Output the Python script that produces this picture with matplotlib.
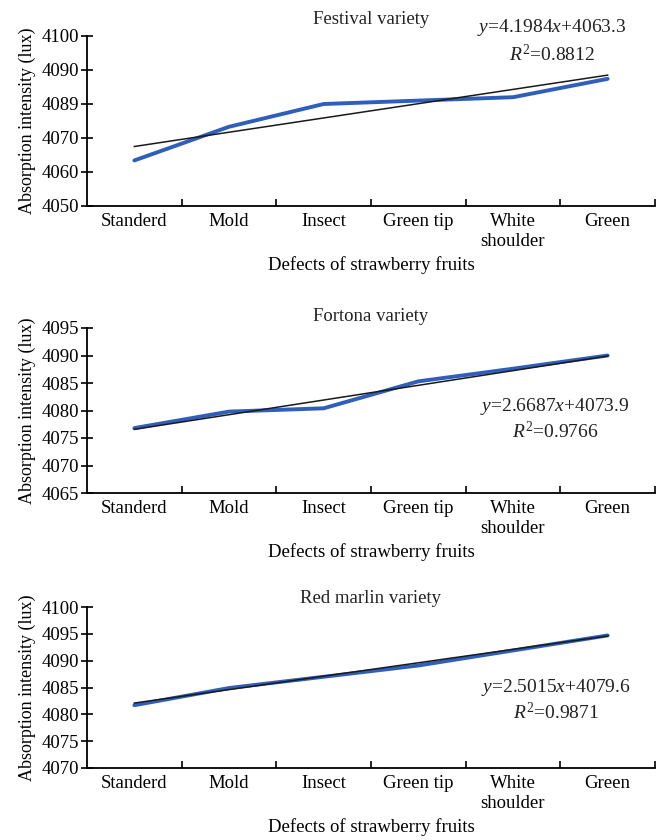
import numpy as np
import matplotlib
matplotlib.use("Agg")
import matplotlib.pyplot as plt

# Données
categories = ["Standerd", "Mold", "Insect", "Green tip", "White\nshoulder", "Green"]
titles = ["Festival variety", "Fortona variety", "Red marlin variety"]

festival = [4063.4, 4073.3, 4080.0, 4081.0, 4082.0, 4087.4]
fortona = [4076.8, 4079.8, 4080.4, 4085.3, 4087.6, 4090.0]
red_marlin = [4081.7, 4084.9, 4087.0, 4089.1, 4091.9, 4094.7]

slopes = [4.1984, 2.6687, 2.5015]
intercepts = [4063.3, 4073.9, 4079.6]
r2_values = [0.8812, 0.9766, 0.9871]

yticks_festival = [4050, 4060, 4070, 4080, 4090, 4100]
ylabels_festival = ["4050", "4060", "4070", "4089", "4090", "4100"]
yticks_fortona = [4065, 4070, 4075, 4080, 4085, 4090, 4095]
yticks_red = [4070, 4075, 4080, 4085, 4090, 4095, 4100]

plt.rcParams['font.family'] = ['Liberation Serif', 'DejaVu Serif']
plt.rcParams['mathtext.fontset'] = 'custom'
plt.rcParams['mathtext.rm'] = 'Liberation Serif'
plt.rcParams['mathtext.it'] = 'Liberation Serif:italic'
plt.rcParams['text.color'] = '#222222'

fig = plt.figure(figsize=(6.61, 8.40), dpi=100)

# position des axes (en pixels, haut / bas)
boxes = [(36, 206), (328, 493), (607, 768)]
left, right = 87, 655
series = [festival, fortona, red_marlin]
yticks_all = [yticks_festival, yticks_fortona, yticks_red]
ylabels_all = [ylabels_festival, [str(v) for v in yticks_fortona], [str(v) for v in yticks_red]]
eq_pos = [(552, 28), (555, 406), (556, 687)]
title_pad = [9, 5, 0]
fs = 13.5

x = np.arange(1, len(categories) + 1)

for i in range(3):
    top, bottom = boxes[i]
    ax = fig.add_axes([left / 661, 1 - bottom / 840, (right - left) / 661, (bottom - top) / 840])

    ax.plot(x, series[i], color='#2f5fba', lw=2.8, solid_capstyle='round', zorder=2)
    trend = slopes[i] * x + intercepts[i]
    ax.plot(x, trend, color='#1a1a1a', lw=1.1, zorder=3)

    ax.set_xlim(0.5, len(categories) + 0.5)
    ax.set_ylim(yticks_all[i][0], yticks_all[i][-1])
    ax.set_yticks(yticks_all[i])
    ax.set_yticklabels(ylabels_all[i], fontsize=fs)

    # ticks aux limites des catégories, étiquettes au centre
    ax.set_xticks(np.arange(1.5, len(categories) + 1, 1.0))
    ax.set_xticklabels([])
    ax.set_xticks(x, minor=True)
    ax.set_xticklabels(categories, minor=True, fontsize=fs, linespacing=1.25)
    ax.tick_params(axis='x', which='major', direction='in', length=5, width=1.2)
    ax.tick_params(axis='x', which='minor', length=0, pad=5)
    ax.tick_params(axis='y', direction='inout', length=8, width=1.2, pad=2)

    for s in ['top', 'right']:
        ax.spines[s].set_visible(False)
    for s in ['left', 'bottom']:
        ax.spines[s].set_linewidth(1.3)

    ax.set_title(titles[i], fontsize=fs, pad=title_pad[i])
    ax.set_ylabel('Absorption intensity (lux)', fontsize=13, labelpad=4)
    ax.set_xlabel('Defects of strawberry fruits', fontsize=fs, labelpad=4)

    ex, ey = eq_pos[i]
    fig.text(ex / 661, 1 - ey / 840, '$y$=%.4f$x$+%.1f' % (slopes[i], intercepts[i]),
             ha='center', va='center', fontsize=14)
    fig.text(ex / 661, 1 - (ey + 26) / 840, '$R^{2}$=%.4f' % r2_values[i],
             ha='center', va='center', fontsize=14)

fig.savefig('out.png', dpi=100)
